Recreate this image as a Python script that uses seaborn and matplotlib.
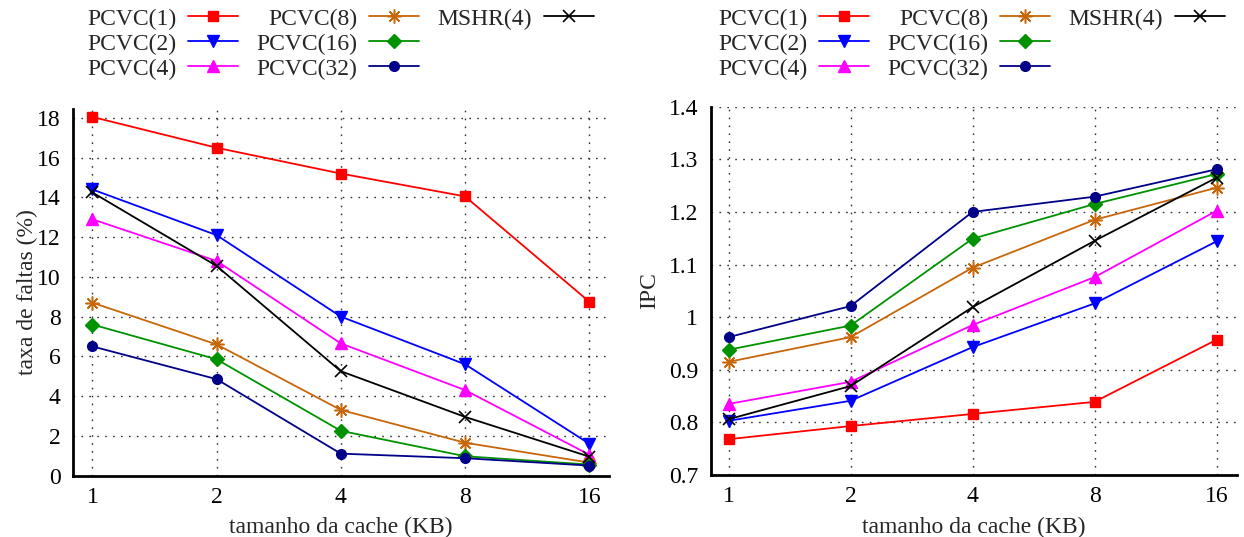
import numpy as np
import pandas as pd
import matplotlib
matplotlib.use("Agg")
import matplotlib.pyplot as plt
import seaborn as sns
from matplotlib.lines import Line2D

sns.set_style("white")
plt.rcParams['font.family'] = ['Liberation Serif', 'DejaVu Serif']

cache_kb = [1, 2, 4, 8, 16]
series_names = ["PCVC(1)", "PCVC(2)", "PCVC(4)", "PCVC(8)", "PCVC(16)", "PCVC(32)", "MSHR(4)"]

miss_pcvc1 = [18.05, 16.5, 15.2, 14.05, 8.75]
miss_pcvc2 = [14.4, 12.1, 8.0, 5.6, 1.6]
miss_pcvc4 = [12.9, 10.8, 6.65, 4.3, 1.05]
miss_pcvc8 = [8.7, 6.6, 3.3, 1.65, 0.65]
miss_pcvc16 = [7.6, 5.85, 2.25, 0.97, 0.55]
miss_pcvc32 = [6.5, 4.85, 1.1, 0.87, 0.5]
miss_mshr4 = [14.25, 10.55, 5.25, 2.95, 0.95]

ipc_pcvc1 = [0.768, 0.793, 0.816, 0.839, 0.957]
ipc_pcvc2 = [0.803, 0.841, 0.943, 1.026, 1.144]
ipc_pcvc4 = [0.835, 0.877, 0.985, 1.076, 1.202]
ipc_pcvc8 = [0.915, 0.962, 1.094, 1.185, 1.246]
ipc_pcvc16 = [0.938, 0.984, 1.149, 1.215, 1.272]
ipc_pcvc32 = [0.962, 1.021, 1.200, 1.229, 1.281]
ipc_mshr4 = [0.806, 0.869, 1.019, 1.145, 1.265]

miss = [miss_pcvc1, miss_pcvc2, miss_pcvc4, miss_pcvc8, miss_pcvc16, miss_pcvc32, miss_mshr4]
ipc = [ipc_pcvc1, ipc_pcvc2, ipc_pcvc4, ipc_pcvc8, ipc_pcvc16, ipc_pcvc32, ipc_mshr4]

colors = ['#ff0000', '#0000ff', '#ff00ff', '#c8660a', '#009200', '#000088', '#000000']
markers = ['s', 'v', '^', (8, 2, 0), 'D', 'o', 'x']
msizes = [7.5, 8.5, 8.5, 10, 7, 7, 9]
mews = [1, 1, 1, 1.1, 1, 1, 1.2]

fig = plt.figure(figsize=(12.44, 5.37), dpi=100)
ax1 = fig.add_axes([73/1244, 1-475.5/537, 536/1244, 366.5/537])
ax2 = fig.add_axes([710.7/1244, 1-475/537, 526.3/1244, 368.3/537])

def draw(ax, data):
    handles = []
    for name, vals, c, m, ms, mew in zip(series_names, data, colors, markers, msizes, mews):
        df = pd.DataFrame({"x": cache_kb, "y": vals})
        sns.lineplot(data=df, x="x", y="y", ax=ax, color=c, marker=m, markersize=ms,
                     markeredgecolor=c, markeredgewidth=mew, linewidth=1.3, zorder=3)
        handles.append(Line2D([], [], color=c, marker=m, markersize=ms, markeredgecolor=c,
                              markeredgewidth=mew, linewidth=1.3, label=name))
    ax.set_xscale('log', base=2)
    ax.set_xticks(cache_kb)
    ax.set_xticklabels([str(v) for v in cache_kb])
    ax.minorticks_off()
    ax.grid(True, which='major', color='#333333', linestyle=(0, (1.2, 4.5)), linewidth=1.0, zorder=0)
    for s in ['top', 'right']:
        ax.spines[s].set_visible(False)
    for s in ['left', 'bottom']:
        ax.spines[s].set_linewidth(2.0)
        ax.spines[s].set_color('black')
    ax.tick_params(axis='both', which='major', direction='in', length=5, width=1.0,
                   labelsize=17, pad=8, colors='black')
    ax.tick_params(axis='y', pad=9)
    ax.set_xlabel("tamanho da cache (KB)", fontsize=17, labelpad=7)
    return handles

h1 = draw(ax1, miss)
ax1.set_xlim(2 ** -0.156, 2 ** 4.159)
ax1.set_ylim(0, 18.45)
ax1.set_yticks(np.arange(0, 19, 2))
ax1.set_ylabel("taxa de faltas (%)", fontsize=17, labelpad=-1)

h2 = draw(ax2, ipc)
ax2.set_xlim(2 ** -0.146, 2 ** 4.168)
ax2.set_ylim(0.7, 1.4)
ax2.set_yticks(np.round(np.arange(0.7, 1.41, 0.1), 1))
ax2.set_yticklabels(['0.7', '0.8', '0.9', '1', '1.1', '1.2', '1.3', '1.4'])
ax2.set_ylabel("IPC", fontsize=17, labelpad=6)

blank = Line2D([], [], linestyle='none', marker=None, label=' ')

def legend(handles, xanchor):
    hs = handles[:6] + [handles[6], blank, blank]
    leg = fig.legend(handles=hs, labels=[h.get_label() for h in hs], loc='upper left',
                     bbox_to_anchor=(xanchor, 0.985), ncol=3, frameon=False,
                     markerfirst=False, fontsize=17, handlelength=2.1, handletextpad=0.5,
                     columnspacing=0.8, labelspacing=0.15, borderpad=0, borderaxespad=0)
    return leg

legend(h1, 87/1244)
legend(h2, 718/1244)

fig.savefig("out.png", dpi=100)
